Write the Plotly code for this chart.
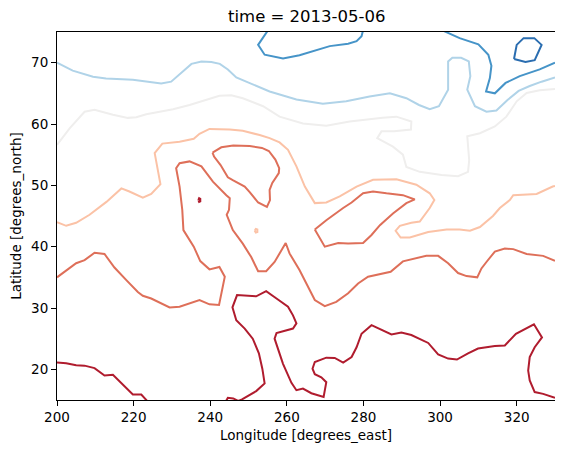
import plotly.graph_objects as go

# ---------------- data: contour lines (lon, lat) ----------------
# level colours (RdBu_r sampled)
level_colors = {
    "darkblue": "#2a6db0",
    "blue": "#4694c8",
    "lightblue": "#b0d3e8",
    "white": "#efeeed",
    "peach": "#fbc2a6",
    "salmon": "#de6f59",
    "darkred": "#b01c2e",
}

db_lon = [319.3, 320.0, 321.8, 324.6, 326.5, 324.7, 322.3, 319.3]
db_lat = [70.6, 72.9, 74.0, 74.0, 72.9, 70.4, 70.1, 70.6]

b1_lon = [255.1, 252.5, 254.2, 259.0, 263.3, 267.7, 271.2, 276.0, 278.2, 279.5, 279.9]
b1_lat = [75.3, 72.9, 71.3, 70.7, 71.2, 72.1, 72.7, 73.1, 73.5, 74.3, 75.3]

b2_lon = [300.5, 305.1, 310.0, 312.6, 313.4, 313.0, 312.0, 314.3, 317.1, 320.8, 326.0, 330.0]
b2_lat = [75.3, 74.0, 73.0, 71.3, 69.5, 67.5, 65.3, 65.0, 66.7, 67.8, 68.9, 70.0]

lb_lon = [200.0, 204.1, 209.4, 212.8, 219.8, 224.2, 227.2, 229.8, 232.9, 235.1,
          237.7, 240.3, 242.5, 244.6, 246.8, 250.3, 255.5, 262.5, 269.4, 275.5,
          281.6, 286.9, 291.2, 294.5, 297.3, 299.7, 302.1, 302.1, 303.2, 305.5,
          307.5, 307.9, 307.1, 309.1, 312.1, 314.7, 317.6, 320.5, 323.4, 326.5, 330.0]
lb_lat = [70.0, 68.7, 67.7, 67.4, 67.2, 66.9, 66.6, 66.9, 68.6, 69.8,
          70.2, 70.1, 69.8, 68.9, 67.6, 66.7, 65.3, 64.0, 63.3, 63.7,
          64.5, 65.0, 64.2, 63.1, 62.4, 62.9, 65.6, 70.2, 70.8, 70.8,
          70.2, 67.8, 65.6, 62.9, 62.0, 62.2, 63.9, 65.4, 66.2, 66.9, 67.6]

wh_lon = [200.0, 203.3, 207.2, 209.8, 214.6, 218.5, 220.7, 223.3, 226.8, 230.3,
          234.6, 239.0, 242.4, 245.5, 248.5, 253.8, 258.1, 264.2, 270.3, 276.4,
          281.6, 285.0, 288.6, 292.5, 292.4, 288.0, 284.7, 283.6, 287.7, 290.3,
          291.2, 294.7, 300.4, 304.7, 307.3, 307.6, 307.1, 310.4, 314.3, 317.3,
          320.0, 322.6, 326.0, 330.0]
wh_lat = [56.6, 59.3, 62.0, 62.3, 61.5, 61.0, 61.1, 61.6, 62.0, 62.4,
          63.1, 63.95, 64.6, 64.7, 64.2, 62.9, 61.2, 60.1, 59.7, 60.4,
          60.8, 61.0, 61.2, 60.4, 59.1, 58.8, 58.8, 57.7, 56.3, 55.0,
          53.0, 52.2, 51.7, 51.5, 52.2, 54.1, 58.0, 58.5, 59.6, 61.2,
          63.7, 65.05, 65.5, 65.7]

pe_lon = [200.0, 202.4, 205.0, 208.5, 212.9, 216.8, 218.9, 222.4, 224.6, 227.0,
          225.5, 227.5, 232.0, 235.7, 237.2, 239.8, 245.1, 248.5, 252.9, 255.5,
          258.1, 260.3, 262.5, 264.7, 267.3, 270.3, 273.8, 278.2, 282.5, 288.6,
          293.8, 297.3, 298.5, 297.3, 294.7, 292.5, 289.5, 288.4, 289.7, 292.1,
          296.9, 301.7, 305.1, 307.8, 310.4, 313.8, 315.6, 318.2, 319.1, 325.2,
          329.4, 330.0]
pe_lat = [44.0, 43.4, 43.9, 45.2, 47.3, 49.5, 49.0, 48.0, 48.6, 50.2,
          55.25, 56.8, 57.1, 57.6, 58.4, 59.2, 59.1, 58.9, 58.2, 57.7,
          57.0, 55.8, 53.1, 49.8, 47.1, 47.2, 48.2, 49.8, 50.9, 51.0,
          50.1, 48.7, 47.6, 46.3, 44.1, 43.9, 43.4, 42.6, 41.5, 41.5,
          42.4, 42.8, 42.8, 42.6, 43.2, 45.0, 46.3, 47.6, 48.4, 48.6,
          49.8, 49.9]

pe_dot_lon = [251.6, 251.9, 252.3, 252.3, 251.9, 251.6]
pe_dot_lat = [42.6, 42.9, 42.8, 42.4, 42.3, 42.6]

sa1_lon = [200.0, 202.4, 205.0, 207.2, 209.8, 212.4, 215.0, 218.1, 221.1, 222.4,
           224.6, 229.4, 232.0, 237.2, 239.8, 242.3, 243.8, 242.4, 239.8, 237.4,
           235.7, 233.0, 232.7, 232.0, 231.1, 232.0, 234.6, 237.7, 240.7, 244.2,
           245.1, 244.9, 244.3, 245.9, 248.5, 250.7, 252.5, 254.6, 256.8, 259.7,
           260.7, 263.3, 265.5, 267.3, 269.9, 272.9, 276.0, 278.6, 281.2, 284.2,
           287.1, 290.3, 293.0, 296.4, 299.5, 302.1, 304.7, 306.9, 309.7, 310.8,
           312.1, 314.3, 316.9, 319.1, 322.6, 326.9, 330.0]
sa1_lat = [35.0, 36.1, 37.3, 37.8, 39.0, 38.8, 36.6, 34.55, 32.6, 32.0,
           31.55, 30.1, 30.2, 31.3, 30.6, 30.5, 35.1, 36.7, 36.3, 37.65,
           40.0, 42.7, 46.0, 49.8, 52.8, 53.6, 53.9, 53.1, 50.6, 48.4,
           47.9, 46.0, 45.2, 42.7, 40.5, 38.3, 36.0, 36.0, 37.5, 40.6,
           38.9, 36.2, 33.45, 31.3, 30.3, 31.0, 32.4, 34.0, 35.1, 35.5,
           35.9, 37.6, 38.0, 38.5, 38.5, 37.3, 35.7, 35.2, 35.0, 36.45,
           37.5, 39.2, 39.7, 39.6, 38.8, 38.5, 37.7]

sa2_lon = [240.6, 242.9, 246.0, 250.3, 253.5, 255.3, 257.0, 258.0, 257.9, 256.2,
           255.5, 255.6, 254.8, 252.5, 250.3, 249.0, 246.0, 244.6, 242.7, 241.0, 240.6]
sa2_lat = [55.35, 56.2, 56.5, 56.4, 56.1, 55.6, 54.2, 52.8, 52.0, 50.4,
           49.25, 47.6, 46.5, 47.2, 48.9, 49.8, 50.8, 51.3, 53.3, 54.7, 55.35]

sa3_lon = [267.3, 270.3, 274.7, 276.9, 279.9, 282.5, 286.0, 290.3, 293.4, 291.2,
           287.7, 286.0, 284.3, 282.1, 279.9, 276.0, 273.4, 269.9, 268.6, 267.3]
sa3_lat = [42.8, 44.3, 46.3, 47.2, 48.7, 49.0, 48.7, 48.4, 47.7, 47.1,
           45.4, 44.5, 43.5, 41.9, 40.6, 40.5, 40.6, 40.0, 41.35, 42.8]

dr1_lon = [200.0, 202.4, 205.0, 207.2, 209.8, 212.4, 214.6, 216.8, 219.8, 222.0, 223.6]
dr1_lat = [21.1, 21.0, 20.65, 20.6, 20.2, 19.0, 19.1, 17.8, 15.9, 15.9, 14.8]

dr2_lon = [244.0, 244.6, 246.0, 247.3, 248.3, 249.4, 252.0, 254.2, 253.6, 252.7,
           251.1, 249.0, 246.8, 245.8, 247.0, 252.0, 254.6, 257.3, 260.3, 261.6,
           262.5, 261.6, 257.3, 256.8, 259.0, 261.2, 262.5, 264.2, 266.4, 269.6,
           270.3, 269.0, 267.3, 266.7, 267.3, 270.3, 272.5, 274.7, 276.9, 278.2,
           279.5, 282.1, 284.7, 287.3, 289.9, 292.5, 296.9, 299.5, 302.1, 304.4,
           307.3, 309.9, 314.3, 316.9, 319.8, 324.5, 326.6, 324.7, 323.4, 323.0,
           323.4, 324.7, 326.9, 329.4, 330.0]
dr2_lat = [14.7, 15.35, 15.25, 14.85, 15.1, 15.5, 16.45, 17.7, 20.1, 22.6,
           25.0, 26.65, 28.0, 30.1, 32.1, 31.9, 32.75, 31.55, 30.2, 28.8,
           27.5, 26.65, 25.9, 25.0, 20.9, 17.8, 16.6, 16.85, 16.1, 15.5,
           17.9, 18.7, 19.2, 20.1, 21.2, 21.9, 21.85, 21.1, 22.0, 23.6,
           25.8, 27.2, 26.4, 25.7, 26.0, 25.6, 24.3, 22.45, 21.75, 21.6,
           22.6, 23.4, 23.8, 23.9, 25.8, 27.35, 25.2, 23.6, 22.0, 19.8,
           18.2, 16.3, 16.0, 15.5, 15.35]

dr_dot_lon = [236.9, 237.1, 237.4, 237.4, 237.1, 236.9]
dr_dot_lat = [47.6, 47.9, 47.8, 47.4, 47.3, 47.6]

x_ticks = [200, 220, 240, 260, 280, 300, 320]
y_ticks = [20, 30, 40, 50, 60, 70]
title_text = "time = 2013-05-06"
x_label = "Longitude [degrees_east]"
y_label = "Latitude [degrees_north]"

segments = [
    (db_lon, db_lat, "darkblue"),
    (b1_lon, b1_lat, "blue"),
    (b2_lon, b2_lat, "blue"),
    (lb_lon, lb_lat, "lightblue"),
    (wh_lon, wh_lat, "white"),
    (pe_lon, pe_lat, "peach"),
    (pe_dot_lon, pe_dot_lat, "peach"),
    (sa1_lon, sa1_lat, "salmon"),
    (sa2_lon, sa2_lat, "salmon"),
    (sa3_lon, sa3_lat, "salmon"),
    (dr1_lon, dr1_lat, "darkred"),
    (dr2_lon, dr2_lat, "darkred"),
    (dr_dot_lon, dr_dot_lat, "darkred"),
]

fig = go.Figure()
for xs, ys, lev in segments:
    fig.add_trace(go.Scatter(
        x=xs, y=ys, mode="lines",
        line=dict(color=level_colors[lev], width=2),
        showlegend=False, hoverinfo="skip",
    ))

font = dict(family="DejaVu Sans", size=13.5, color="black")
axis_common = dict(
    showgrid=False, zeroline=False, showline=True, linecolor="black", linewidth=1,
    mirror=True, ticks="outside", ticklen=5, tickwidth=1, tickcolor="black",
    tickfont=font, automargin=False,
)
fig.update_layout(
    width=563, height=453,
    margin=dict(l=49, r=16, t=24, b=61),
    paper_bgcolor="white", plot_bgcolor="white",
    font=font,
    xaxis=dict(range=[200, 330], tickvals=x_ticks, ticktext=[str(v) for v in x_ticks],
               title=dict(text=x_label, font=font, standoff=6), **axis_common),
    yaxis=dict(range=[15, 75], tickvals=y_ticks, ticktext=[str(v) for v in y_ticks],
               title=dict(text=y_label, font=font, standoff=6), **axis_common),
    annotations=[dict(text=title_text, x=0.5, y=1, xref="paper", yref="paper",
                      xanchor="center", yanchor="bottom", yshift=4, showarrow=False,
                      font=dict(family="DejaVu Sans", size=16.5, color="black"))],
)

fig.write_html("out.html")
